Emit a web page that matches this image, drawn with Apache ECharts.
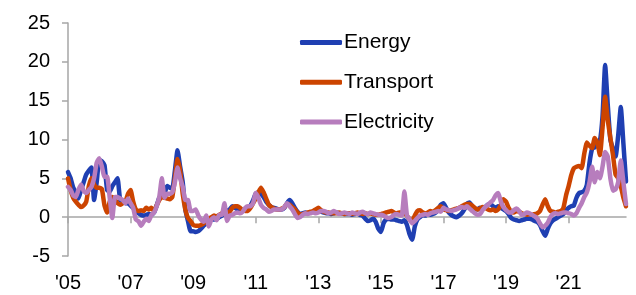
<!DOCTYPE html>
<html>
<head>
<meta charset="utf-8">
<script src="https://cdn.jsdelivr.net/npm/echarts@6/dist/echarts.min.js"></script>
<style>
html,body{margin:0;padding:0;background:#fff;}
#c{width:636px;height:295px;}
</style>
</head>
<body>
<div id="c"></div>
<script>
// Monthly, Jan 2005 .. Nov 2022
const startYear = 2005;
const monthCount = 215;
const tickLabels = ["'05","'07","'09","'11","'13","'15","'17","'19","'21"];
const yTicks = [-5, 0, 5, 10, 15, 20, 25];

const energy = [
 5.8,5.0,3.8,3.2,2.4,3.5,4.5,5.5,6.0,6.4,2.2,4.5,
 7.4,7.2,6.7,3.5,3.3,4.0,4.5,5.0,2.2,2.0,1.8,1.8,
 1.5,1.2,0.8,0.5,0.3,0.2,0.3,0.4,0.3,0.6,1.5,2.5,
 2.8,3.0,4.0,3.8,3.7,6.0,8.6,6.5,4.5,1.0,-0.5,-1.8,
 -1.8,-1.9,-1.8,-1.5,-1.1,-0.8,-0.5,-0.3,-0.3,-0.2,0.0,0.2,
 0.5,0.8,1.0,1.4,1.2,1.0,0.8,0.8,0.9,1.0,1.5,2.2,
 3.0,3.2,3.0,2.6,2.0,1.6,1.3,1.2,1.1,1.0,1.0,1.2,
 1.8,2.2,1.8,1.2,0.7,0.4,0.5,0.6,0.5,0.6,0.7,0.8,
 0.9,0.7,0.6,0.5,0.5,0.4,0.5,0.6,0.5,0.5,0.4,0.4,
 0.4,0.3,0.4,0.5,0.3,0.2,-0.2,-0.5,-0.4,-0.2,-0.6,-1.5,
 -1.9,-0.8,-0.3,-0.2,-0.3,-0.3,-0.4,-0.5,-0.6,-0.4,-1.0,-2.2,
 -2.9,-1.2,-0.3,0.0,0.3,0.2,0.4,0.3,0.4,0.6,1.0,1.6,
 1.8,1.2,0.6,0.3,0.1,0.0,0.2,0.5,1.0,1.7,1.9,1.4,
 1.1,1.0,1.2,1.1,1.3,1.6,1.7,1.4,1.2,1.4,1.2,1.0,
 0.8,0.4,-0.1,-0.3,-0.4,-0.5,-0.4,-0.3,-0.2,-0.2,-0.3,-0.5,
 -0.6,-1.0,-1.8,-2.4,-1.5,-0.8,-0.4,-0.2,0.0,0.2,0.4,0.9,
 1.2,1.4,1.5,2.5,3.1,3.2,3.4,4.2,7.0,8.8,9.0,9.4,
 9.8,13.0,19.6,14.5,10.0,8.8,7.8,10.5,14.2,9.5,4.6
];

const transport = [
 5.0,3.5,2.5,2.0,1.6,1.3,1.5,2.0,4.0,5.0,4.2,3.8,
 3.8,3.6,1.5,0.6,2.0,2.6,2.2,1.8,1.6,1.8,2.0,3.0,
 3.5,2.0,1.0,0.8,0.9,0.8,1.2,1.0,1.2,0.8,1.5,2.2,
 2.6,2.5,2.4,2.3,2.6,5.0,7.5,6.0,3.0,1.0,-0.1,-0.5,
 -1.0,-1.1,-1.1,-1.0,-0.8,-0.5,-0.2,0.0,0.2,0.1,0.3,0.5,
 0.5,0.6,0.7,1.2,1.4,1.4,1.2,0.9,0.8,0.8,1.2,1.8,
 2.4,3.2,3.8,3.2,2.4,1.6,1.3,1.1,1.0,1.0,1.1,1.3,
 1.7,1.6,1.3,1.0,0.6,0.3,0.4,0.5,0.6,0.7,0.8,1.0,
 1.2,0.9,0.7,0.6,0.6,0.5,0.5,0.5,0.6,0.5,0.4,0.5,
 0.5,0.4,0.5,0.6,0.5,0.4,0.5,0.4,0.5,0.4,0.3,0.3,
 0.4,0.5,0.6,0.7,0.8,0.6,0.5,0.6,0.6,0.5,0.2,-0.3,
 -0.4,0.2,0.8,0.9,0.6,0.5,0.6,0.8,0.7,0.9,1.2,1.4,
 1.0,0.9,0.8,0.9,1.0,1.1,1.2,1.4,1.6,1.7,1.7,1.5,
 1.2,1.0,1.1,1.3,1.2,1.0,0.9,1.0,0.8,1.0,1.6,2.3,
 2.0,1.2,0.7,0.6,0.8,0.7,0.5,0.4,0.3,0.4,0.3,0.4,
 0.5,0.8,1.6,2.3,1.4,0.8,0.7,0.6,0.7,0.8,1.2,2.8,
 4.0,5.4,6.3,6.5,6.6,6.3,8.2,9.6,9.2,8.9,10.2,9.6,
 8.0,11.5,15.5,12.5,10.2,8.0,5.5,5.0,4.0,2.5,1.4
];

const electricity = [
 3.9,3.5,2.8,2.6,3.5,4.2,3.4,3.1,3.5,3.9,5.0,7.0,
 7.6,6.5,5.2,5.2,2.5,-0.1,2.6,2.6,2.4,2.2,1.8,2.4,
 1.8,1.2,-0.3,-0.5,-1.1,-0.6,-0.2,-0.5,0.3,0.6,1.4,2.6,
 5.0,2.5,3.0,3.0,3.2,4.5,6.4,5.0,3.9,2.2,2.2,0.8,
 0.8,1.0,0.2,-0.3,-0.6,0.2,-1.2,-0.3,0.0,-0.4,0.3,0.3,
 1.8,-0.5,0.2,0.3,0.5,0.6,0.5,0.7,1.2,1.4,1.4,1.8,
 3.1,2.5,1.6,1.2,1.0,0.7,0.8,1.0,1.0,1.0,1.0,1.3,
 1.8,1.4,1.0,0.4,-0.1,0.0,0.3,0.5,0.4,0.5,0.6,0.5,
 0.6,0.8,0.8,0.7,0.5,0.6,0.8,0.6,0.4,0.5,0.6,0.5,
 0.4,0.6,0.5,0.4,0.6,0.7,0.5,0.4,0.6,0.5,0.4,0.3,
 0.3,0.2,0.0,-0.1,0.0,0.3,0.4,0.3,0.2,3.3,0.2,-0.3,
 -0.8,-0.5,-0.1,0.2,0.3,0.4,0.3,0.5,0.6,0.7,0.8,0.7,
 1.2,1.0,0.9,0.8,0.9,1.0,1.2,1.3,1.2,1.4,1.1,0.8,
 0.5,0.3,0.4,0.9,1.3,1.6,1.9,2.2,2.8,3.1,2.0,1.3,
 0.9,0.6,0.6,0.9,1.1,0.8,0.3,0.4,0.6,0.5,0.3,0.1,
 -0.2,-0.8,-1.3,-1.1,-0.7,0.0,0.4,0.5,0.4,0.5,0.6,0.6,
 0.5,0.4,0.2,0.5,1.2,1.8,2.6,3.2,4.5,6.5,4.5,5.8,
 5.0,6.5,8.4,7.8,5.0,3.4,3.6,4.5,7.3,4.5,1.7
];

const seriesNames = ['Energy', 'Transport', 'Electricity'];
const seriesColors = ['#1F3FB2', '#CC4400', '#B77DBD'];

const months = [];
for (let i = 0; i < monthCount; i++) {
  const y = startYear + Math.floor(i / 12);
  const m = (i % 12) + 1;
  months.push(y + '-' + (m < 10 ? '0' + m : m));
}

const chart = echarts.init(document.getElementById('c'), null, {renderer: 'canvas'});
const font = 'Liberation Sans, Arial, sans-serif';
const axisGray = '#A6A6A6';

const dataSets = [energy, transport, electricity];

chart.setOption({
  animation: false,
  backgroundColor: '#ffffff',
  grid: {left: 68, right: 10, top: 23, bottom: 39, containLabel: false},
  legend: {
    orient: 'vertical',
    left: 300,
    top: 32,
    padding: 0,
    itemWidth: 42,
    itemHeight: 5,
    itemGap: 18.7,
    icon: 'roundRect',
    textStyle: {fontFamily: font, fontSize: 21, color: '#000', lineHeight: 21, padding: [0,0,0,-3]},
    data: seriesNames
  },
  xAxis: [
    {
      type: 'category',
      data: months,
      boundaryGap: false,
      axisLine: {show: false, onZero: false},
      axisTick: {show: false},
      splitLine: {show: false},
      axisLabel: {
        interval: 23,
        margin: 17,
        color: '#000',
        fontFamily: font,
        fontSize: 20,
        formatter: function (v, idx) { return tickLabels[Math.round(idx / 24)] || ''; }
      }
    },
    {
      type: 'category',
      data: months,
      boundaryGap: false,
      position: 'bottom',
      axisLine: {show: true, onZero: true, lineStyle: {color: axisGray, width: 1.5}},
      axisTick: {show: true, interval: 23, length: 6, lineStyle: {color: axisGray, width: 1.5}},
      axisLabel: {show: false},
      splitLine: {show: false}
    }
  ],
  yAxis: {
    type: 'value',
    min: -5,
    max: 25,
    interval: 5,
    axisLine: {show: true, lineStyle: {color: axisGray, width: 1.5}},
    axisTick: {show: true, length: 6, lineStyle: {color: axisGray, width: 1.5}},
    splitLine: {show: false},
    axisLabel: {
      margin: 18,
      color: '#000',
      fontFamily: font,
      fontSize: 20,
      formatter: function (v) { return yTicks.indexOf(v) >= 0 ? String(v) : ''; }
    }
  },
  series: seriesNames.map(function (name, k) {
    return {
      name: name,
      type: 'line',
      xAxisIndex: 0,
      data: dataSets[k],
      showSymbol: false,
      symbol: 'none',
      smooth: 0.15,
      color: seriesColors[k],
      lineStyle: {width: 4.5, color: seriesColors[k], join: 'round', cap: 'round'},
      z: 2 + k
    };
  })
});
</script>
</body>
</html>
